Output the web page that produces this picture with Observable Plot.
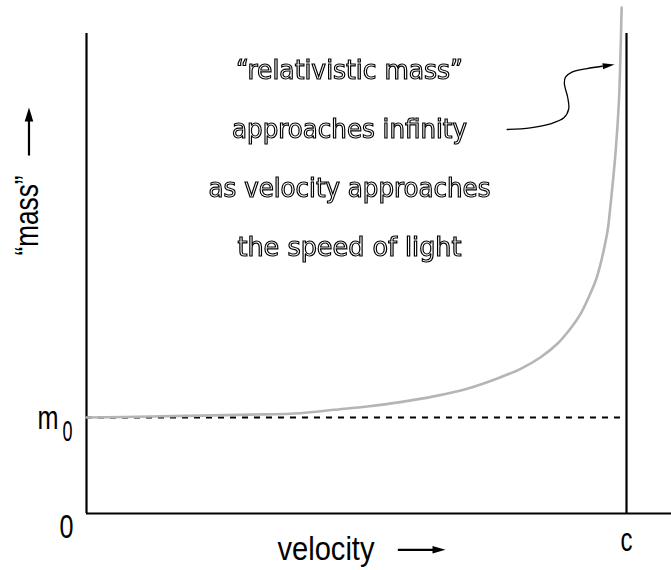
<!DOCTYPE html>
<html>
<head>
<meta charset="utf-8">
<script src="https://cdn.jsdelivr.net/npm/d3@7"></script>
<script src="https://cdn.jsdelivr.net/npm/@observablehq/plot@0.6"></script>
<style>
  html, body { margin: 0; padding: 0; background: #fff; }
  #chart svg { display: block; }
</style>
</head>
<body>
<div id="chart"></div>
<script>
// ---- data (velocity as fraction of c, mass in units of m0) ----
const velocity = [0, 0.119, 0.211, 0.304, 0.396, 0.458, 0.520, 0.581, 0.643, 0.705, 0.767, 0.804, 0.841, 0.872, 0.896, 0.915, 0.930, 0.943, 0.952, 0.959, 0.965, 0.970, 0.980, 0.986, 0.989, 0.991];
const mass     = [1.00, 1.01, 1.02, 1.03, 1.045, 1.08, 1.115, 1.16, 1.22, 1.30, 1.42, 1.507, 1.628, 1.768, 1.924, 2.08, 2.253, 2.427, 2.601, 2.774, 2.948, 3.19, 3.78, 4.30, 4.82, 5.27];

const restMass = [1];
const speedOfLight = [1];
const zeroLabel = ["0"];
const restMassLabel = ["m"];
const restMassSubscript = ["0"];
const speedLabel = ["c"];
const xTitle = ["velocity"];
const yTitle = ["\u201cmass\u201d"];
const annotationLines = ["\u201crelativistic mass\u201d", "approaches infinity", "as velocity approaches", "the speed of light"];

// annotation arrow path (velocity, mass)
const pointerV = [0.779, 0.822, 0.859, 0.884, 0.893, 0.891, 0.885, 0.887, 0.899, 0.927, 0.955];
const pointerM = [4.00, 4.018, 4.059, 4.122, 4.216, 4.336, 4.476, 4.545, 4.597, 4.635, 4.659];

const curve = velocity.map((v, i) => ({v, m: mass[i]}));
const pointer = pointerV.map((v, i) => ({v, m: pointerM[i]}));

const labelFont = "'Liberation Sans', Arial, sans-serif";
const noteFont = "'DejaVu Sans Condensed', 'DejaVu Sans', sans-serif";

const head = (len, half) => ({
  draw(ctx) { ctx.moveTo(0, 0); ctx.lineTo(half, len); ctx.lineTo(-half, len); ctx.closePath(); }
});

const chart = Plot.plot({
  width: 671,
  height: 570,
  marginLeft: 86,
  marginRight: 0,
  marginTop: 0,
  marginBottom: 57,
  x: {domain: [0, 1.08333], axis: null},
  y: {domain: [0, 5.34375], axis: null},
  style: {background: "white", fontFamily: labelFont},
  marks: [
    // rest-mass dashed line
    Plot.ruleY(restMass, {x1: 0, x2: 1, stroke: "black", strokeWidth: 2.2, strokeDasharray: "6,6"}),
    // axes / frame
    Plot.ruleY([0], {stroke: "black", strokeWidth: 2.2}),
    Plot.ruleX([0], {y1: 0, y2: 5, stroke: "black", strokeWidth: 2.2}),
    Plot.ruleX(speedOfLight, {y1: 0, y2: 5, stroke: "black", strokeWidth: 2.2}),
    // the curve
    Plot.line(curve, {x: "v", y: "m", curve: "catmull-rom", stroke: "#b5b5b5", strokeWidth: 2.6}),
    // tick labels
    Plot.text(zeroLabel, {x: 0, y: 0, text: d => d, textAnchor: "end", lineAnchor: "bottom", dx: -13, dy: 24, fontSize: 33, fill: "black"}),
    Plot.text(restMassLabel, {x: 0, y: restMass[0], text: d => d, textAnchor: "end", lineAnchor: "bottom", dx: -28, dy: 11, fontSize: 33, fill: "black"}),
    Plot.text(restMassSubscript, {x: 0, y: restMass[0], text: d => d, textAnchor: "start", lineAnchor: "bottom", dx: -24, dy: 23, fontSize: 30, fill: "black"}),
    Plot.text(speedLabel, {x: speedOfLight[0], y: 0, text: d => d, textAnchor: "middle", lineAnchor: "bottom", dy: 37, fontSize: 33, fill: "black"}),
    // axis titles
    Plot.text(xTitle, {frameAnchor: "top-left", text: d => d, textAnchor: "start", lineAnchor: "bottom", dx: 191, dy: 559, fontSize: 33, fill: "black"}),
    Plot.text(yTitle, {frameAnchor: "top-left", text: d => d, textAnchor: "middle", lineAnchor: "bottom", rotate: -90, dx: -49, dy: 215, fontSize: 33, fill: "black"}),
    // axis arrows
    Plot.link([0], {x1: 0.5765, x2: 0.645, y1: -0.378, y2: -0.378, stroke: "black", strokeWidth: 2.2}),
    Plot.dot([0], {x: 0.6648, y: -0.378, symbol: head(13, 3.8), rotate: 90, fill: "black", stroke: "none"}),
    Plot.link([0], {x1: -0.1065, x2: -0.1065, y1: 3.729, y2: 4.10, stroke: "black", strokeWidth: 2.2}),
    Plot.dot([0], {x: -0.1065, y: 4.229, symbol: head(14, 4.3), rotate: 0, fill: "black", stroke: "none"}),
    // annotation, one mark per line
    ...annotationLines.map((line, i) => Plot.text([line], {
      frameAnchor: "top-left", text: d => d,
      textAnchor: "middle", lineAnchor: "bottom", dx: 263, dy: 78 + 59 * i,
      fontSize: 26, fontFamily: noteFont, fill: "white", stroke: "black",
      strokeWidth: 1.1, paintOrder: "normal", strokeLinejoin: "miter"
    })),
    Plot.line(pointer, {x: "v", y: "m", curve: "catmull-rom", stroke: "black", strokeWidth: 1.3}),
    Plot.dot([0], {x: 0.978, y: 4.677, symbol: head(12, 3), rotate: 82, fill: "black", stroke: "none"})
  ]
});

// condense the label glyphs to the narrow face of the original
const labelWidths = new Map([
  ["velocity|33", 97], ["\u201cmass\u201d|33", 80], ["m|33", 21], ["c|33", 12], ["0|33", 14], ["0|30", 10],
  [annotationLines[0] + "|26", 227], [annotationLines[1] + "|26", 235],
  [annotationLines[2] + "|26", 282], [annotationLines[3] + "|26", 224]
]);
d3.select(chart).selectAll("text").each(function() {
  let fs = null;
  for (let n = this; n && n.getAttribute && fs == null; n = n.parentNode) fs = n.getAttribute("font-size");
  const key = this.textContent + "|" + fs;
  if (labelWidths.has(key)) {
    d3.select(this).attr("textLength", labelWidths.get(key)).attr("lengthAdjust", "spacingAndGlyphs");
  }
  if (annotationLines.includes(this.textContent)) {
    d3.select(this.parentNode).style("filter", "grayscale(1)");
  }
});

document.getElementById("chart").appendChild(chart);
</script>
</body>
</html>
